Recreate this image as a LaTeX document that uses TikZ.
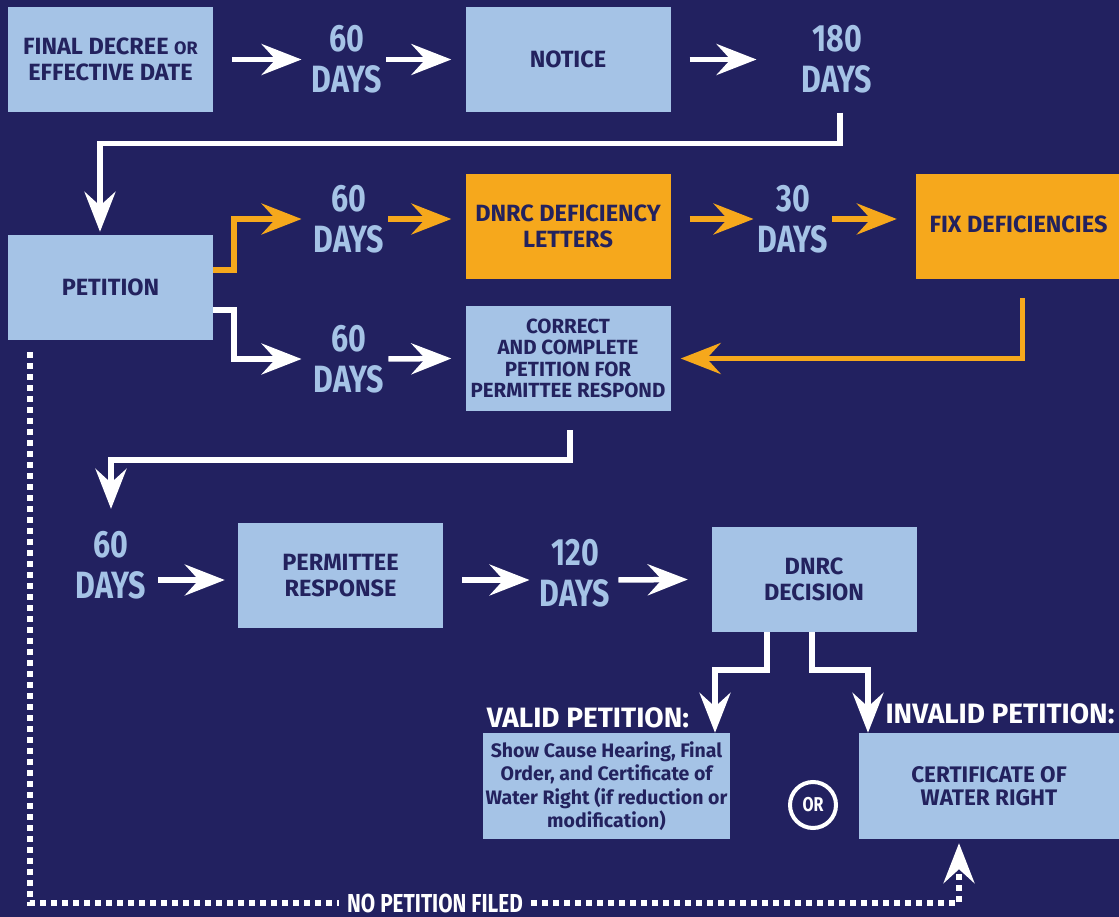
\documentclass[tikz,border=0pt]{standalone}
\usepackage{fontspec}
\setmainfont{Fira Sans}
\newfontfamily\daysfont{Fira Sans}[FakeStretch=0.8]
\usetikzlibrary{arrows.meta}
\definecolor{bgnavy}{HTML}{222160}
\definecolor{boxblue}{HTML}{A5C3E6}
\definecolor{warnorange}{HTML}{F6A81C}
\definecolor{inknavy}{HTML}{23225E}
\tikzset{
  stagebox/.style={fill=boxblue, text=inknavy, minimum width=205pt, minimum height=105pt, inner sep=0pt, align=center, font=\bfseries\fontsize{23.5}{26}\selectfont},
  warnbox/.style={stagebox, fill=warnorange},
  waitlabel/.style={text=boxblue, align=center, inner sep=2pt, font=\daysfont\bfseries\fontsize{38}{41}\selectfont},
  outcome/.style={text=white, inner sep=0pt, font=\bfseries\fontsize{28}{30}\selectfont},
  headtip/.style={-{Stealth[length=40pt,width=31pt,inset=14pt]}},
  flow/.style={draw=white, line width=5.5pt, headtip},
  fixflow/.style={flow, draw=warnorange},
  nofile/.style={draw=white, line width=5.5pt, dash pattern=on 6pt off 5pt}
}
\begin{document}
\begin{tikzpicture}[x=1pt,y=-1pt]
\fill[bgnavy] (0,0) rectangle (1119,917);
\useasboundingbox (0,0) rectangle (1119,917);
\def\stage#1#2#3#4{\node[stagebox] (#1) at (#2,#3) {#4};}
\def\wait#1#2#3#4{\node[waitlabel] (#1) at (#2,#3) {#4\\DAYS};}
\stage{decree}{110.5}{59.5}{FINAL DECREE {\fontsize{18}{20}\selectfont OR}\\EFFECTIVE DATE}
\stage{notice}{568}{59.5}{NOTICE}
\stage{petition}{110.5}{287.5}{PETITION}
\node[warnbox] (letters) at (568,226.5) {DNRC DEFICIENCY\\LETTERS};
\node[warnbox] (fix) at (1018.5,226.5) {\raisebox{5pt}{FIX DEFICIENCIES}};
\node[stagebox, font=\bfseries\fontsize{20.5}{21.5}\selectfont] (correct) at (568,358.5) {CORRECT\\AND COMPLETE\\PETITION FOR\\PERMITTEE RESPOND};
\stage{response}{340.5}{575.5}{PERMITTEE\\RESPONSE}
\stage{decision}{814}{579.5}{DNRC\\DECISION}
\node[stagebox, minimum width=247pt, minimum height=106pt, font=\bfseries\fontsize{19.5}{23.5}\selectfont] (valid) at (606.5,786) {Show Cause Hearing, Final\\Order, and Certificate of\\Water Right (if reduction or\\modification)};
\node[stagebox, minimum width=260pt, minimum height=106pt, font=\bfseries\fontsize{22.5}{23}\selectfont] (invalid) at (989,786) {CERTIFICATE OF\\WATER RIGHT};
\wait{d60a}{347}{59.5}{60}
\wait{d180}{837}{59.5}{180}
\wait{d60b}{349}{219}{60}
\wait{d30}{793}{219}{30}
\wait{d60c}{349}{359}{60}
\wait{d60d}{111}{565}{60}
\wait{d120}{575}{573}{120}
\node[outcome] (validhead) at (588,718) {VALID PETITION:};
\node[outcome] (invalidhead) at (1000,714) {INVALID PETITION:};
\node[circle, draw=white, line width=4pt, minimum size=46pt, inner sep=0pt, text=white, font=\daysfont\bfseries\fontsize{20}{20}\selectfont] (orsign) at (813,805) {OR};
\node[text=white, inner sep=8pt, font=\daysfont\bfseries\fontsize{26}{26}\selectfont] (nofiled) at (435,903) {NO PETITION FILED};
\draw[flow] ([xshift=19pt]decree.east) -- ([xshift=-8pt]d60a.west);
\draw[flow] ([xshift=2pt]d60a.east) -- ([xshift=-14pt]notice.west);
\draw[flow] ([xshift=19pt]notice.east) -- ([xshift=-43pt]d180.west);
\draw[flow] ([xshift=3pt,yshift=-17pt]d180.south) -- ++(0,31) -| ([xshift=-10.5pt,yshift=3pt]petition.north);
\draw[fixflow] ([yshift=17.5pt]petition.east) -- ++(21,0) |- ([xshift=-10pt]d60b.west);
\draw[fixflow] ([xshift=2pt]d60b.east) -- ([xshift=-14pt,yshift=7.5pt]letters.west);
\draw[fixflow] ([xshift=19pt,yshift=7.5pt]letters.east) -- ([xshift=-2pt]d30.west);
\draw[fixflow] ([xshift=2pt]d30.east) -- ([xshift=-19pt,yshift=7.5pt]fix.west);
\draw[fixflow] ([xshift=4pt,yshift=-19pt]fix.south) |- ([xshift=10pt]correct.east);
\draw[flow] ([yshift=-22.5pt]petition.east) -- ++(21,0) |- ([xshift=-10pt]d60c.west);
\draw[flow] ([xshift=2pt]d60c.east) -- ([xshift=-14pt]correct.west);
\draw[flow] ([xshift=2pt,yshift=-19pt]correct.south) -- ++(0,30) -| ([yshift=20pt]d60d.north);
\draw[flow] ([xshift=10pt,yshift=-15pt]d60d.east) -- ([xshift=-13pt,yshift=-4.5pt]response.west);
\draw[flow] ([xshift=19pt,yshift=-4.5pt]response.east) -- ([xshift=-8pt,yshift=-7pt]d120.west);
\draw[flow] ([xshift=6pt,yshift=-7pt]d120.east) -- ([xshift=-23.5pt]decision.west);
\draw[flow] ([xshift=-47pt]decision.south) -- ++(0,38) -| ([xshift=108.5pt]valid.north);
\draw[flow] ([xshift=-2pt]decision.south) -- ++(0,38) -| ([xshift=-121pt]invalid.north);
\draw[nofile] ([xshift=-80.5pt,yshift=-12pt]petition.south) |- (nofiled.west);
\draw[nofile, headtip] (nofiled.east) -| ([xshift=-30pt,yshift=-4pt]invalid.south);
\end{tikzpicture}
\end{document}
